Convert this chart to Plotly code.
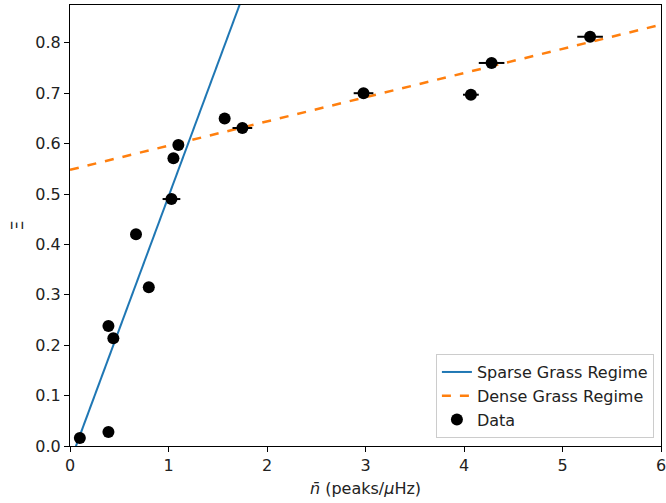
import plotly.graph_objects as go

# Data
n_bar = [0.10, 0.39, 0.39, 0.44, 0.67, 0.80, 1.03, 1.05, 1.10, 1.57, 1.75, 2.98, 4.07, 4.28, 5.28]
xi = [0.016, 0.028, 0.238, 0.214, 0.420, 0.315, 0.490, 0.571, 0.597, 0.650, 0.631, 0.700, 0.697, 0.760, 0.812]
n_err = [0.02, 0.02, 0.02, 0.02, 0.03, 0.03, 0.09, 0.03, 0.03, 0.05, 0.10, 0.10, 0.08, 0.13, 0.13]

# Fit lines
sparse_x = [0.06, 2.0]
sparse_slope, sparse_icpt = 0.527, -0.032
dense_x = [0.0, 6.0]
dense_slope, dense_icpt = 0.048, 0.548

sparse_y = [sparse_slope * x + sparse_icpt for x in sparse_x]
dense_y = [dense_slope * x + dense_icpt for x in dense_x]

font = "DejaVu Sans"
fs = 16

fig = go.Figure()
fig.add_trace(go.Scatter(x=sparse_x, y=sparse_y, mode="lines", name="Sparse Grass Regime",
                         line=dict(color="#1f77b4", width=2)))
fig.add_trace(go.Scatter(x=dense_x, y=dense_y, mode="lines", name="Dense Grass Regime",
                         line=dict(color="#ff7f0e", width=2.5, dash="dash")))
fig.add_trace(go.Scatter(x=n_bar, y=xi, mode="markers", name="Data",
                         marker=dict(color="black", size=12),
                         error_x=dict(type="data", array=n_err, color="black", thickness=2, width=0)))

axis_common = dict(showgrid=False, zeroline=False, showline=True, linecolor="black", linewidth=1,
                   mirror=True, ticks="outside", ticklen=5, tickcolor="black", automargin=False,
                   ticklabeloverflow="allow",
                   tickfont=dict(family=font, size=fs, color="#222"))

fig.update_layout(
    width=666, height=503,
    margin=dict(l=70, r=5, t=5, b=57),
    plot_bgcolor="white", paper_bgcolor="white",
    font=dict(family=font, size=fs, color="#222"),
    xaxis=dict(range=[0, 6], tickvals=[0, 1, 2, 3, 4, 5, 6],
               title=dict(text="<i>n̄</i> (peaks/<i>μ</i>Hz)", standoff=8, font=dict(family=font, size=fs)),
               **axis_common),
    yaxis=dict(range=[0, 0.875], tickvals=[0, 0.1, 0.2, 0.3, 0.4, 0.5, 0.6, 0.7, 0.8], tickformat=".1f",
               title=dict(text="Ξ", standoff=7, font=dict(family=font, size=fs)),
               **axis_common),
    legend=dict(x=0.988, y=0.018, xanchor="right", yanchor="bottom",
                bgcolor="rgba(255,255,255,0.8)", bordercolor="#cccccc", borderwidth=1,
                font=dict(family=font, size=fs, color="#222"), tracegroupgap=0),
    showlegend=True,
)

fig.write_html("out.html")
